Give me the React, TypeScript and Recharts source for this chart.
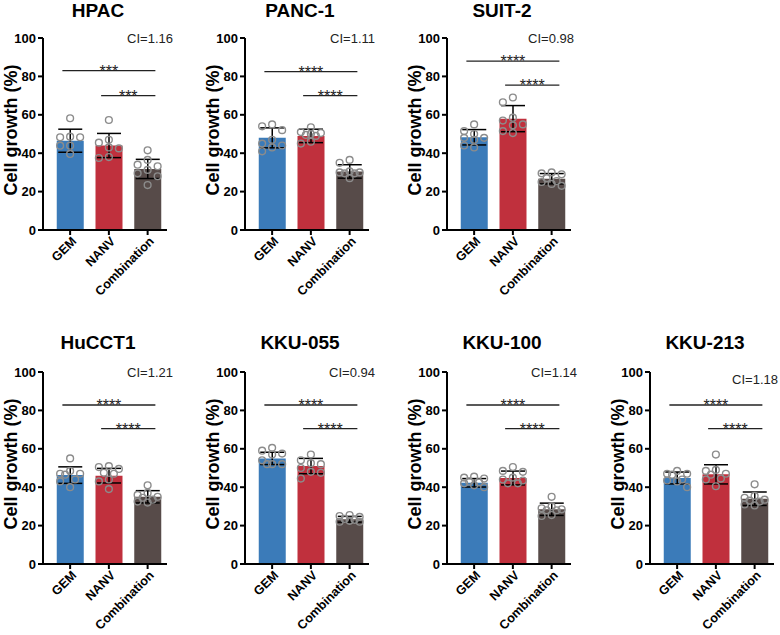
import React from 'react';
import { ComposedChart, Bar, Cell, ErrorBar, Scatter, XAxis, YAxis, ReferenceLine } from 'recharts';

// ---------- data ----------
const groups = ['GEM', 'NANV', 'Combination'];
const yTicks = [0, 20, 40, 60, 80, 100];
const panelNames = ['HPAC', 'PANC-1', 'SUIT-2', 'HuCCT1', 'KKU-055', 'KKU-100', 'KKU-213'];
const ciLabels = ['CI=1.16', 'CI=1.11', 'CI=0.98', 'CI=1.21', 'CI=0.94', 'CI=1.14', 'CI=1.18'];

const meanGEM = [46.5, 48, 48.3, 46.3, 55, 42.3, 44.8];
const meanNANV = [44, 49, 58, 46, 51, 44.8, 46.7];
const meanComb = [31.8, 30.5, 26.7, 35, 23.3, 28.5, 34];
const sdGEM = [6, 5.2, 4, 4.3, 3.2, 2.2, 3.1];
const sdNANV = [6.3, 3.5, 6.8, 3.8, 4, 3.6, 5];
const sdComb = [5, 3.5, 2.7, 3.2, 1.5, 3.2, 3.5];

const hpacGEM = [58.2, 48.6, 48.3, 48.3, 43.9, 43.9, 39.6];
const hpacNANV = [57.3, 47, 45.5, 43, 42.5, 38, 37.5];
const hpacComb = [41.5, 36.5, 34, 33.2, 31.3, 29.5, 28, 23.4];
const panc1GEM = [55, 54, 52, 47, 45, 44, 43, 41];
const panc1NANV = [53.5, 51, 50.5, 50, 49.5, 49, 46, 45];
const panc1Comb = [36.5, 35, 30.5, 30, 29.5, 30, 29.5, 27];
const suit2GEM = [55, 51.5, 50, 48, 48, 47, 44, 43];
const suit2NANV = [69, 66.5, 58.5, 57, 55, 54.5, 51.5, 50.5];
const suit2Comb = [30, 29.5, 29, 27, 25.5, 25, 24, 23];
const hucct1GEM = [55, 48.5, 47, 47, 46.5, 44, 43, 40];
const hucct1NANV = [51, 50.5, 49.5, 47.5, 47, 44, 43, 39];
const hucct1Comb = [41, 37, 36, 35, 34.5, 33.5, 32.5, 32];
const kku055GEM = [60.5, 59, 57.5, 57, 54, 52, 52, 52];
const kku055NANV = [57, 54, 52.5, 52, 50, 48, 47.5, 44.5];
const kku055Comb = [25.5, 25, 24.5, 23.5, 23, 22.5, 22, 22];
const kku100GEM = [45.5, 45, 44.5, 43, 42.5, 42, 41, 40];
const kku100NANV = [50.5, 48.5, 48, 45, 44, 43.5, 42, 42];
const kku100Comb = [35, 30, 29, 28.5, 28, 28, 25.5, 25];
const kku213GEM = [48.5, 47, 47, 46.5, 44, 43.5, 43, 40];
const kku213NANV = [57, 49, 48.5, 47, 46.5, 44.5, 44, 40.5];
const kku213Comb = [41.5, 35.5, 34.5, 33.5, 33, 32.5, 31, 30.5];

const pointsGEM = [hpacGEM, panc1GEM, suit2GEM, hucct1GEM, kku055GEM, kku100GEM, kku213GEM];
const pointsNANV = [hpacNANV, panc1NANV, suit2NANV, hucct1NANV, kku055NANV, kku100NANV, kku213NANV];
const pointsComb = [hpacComb, panc1Comb, suit2Comb, hucct1Comb, kku055Comb, kku100Comb, kku213Comb];

// significance brackets: [GEM vs Combination], [NANV vs Combination]
const sigHighY = [83, 82.5, 88, 82.8, 82.8, 82.8, 82.8];
const sigLowY = [70, 70, 75.5, 70.5, 70.5, 70.5, 70.5];
const sigHighText = ['***', '****', '****', '****', '****', '****', '****'];
const sigLowText = ['***', '****', '****', '****', '****', '****', '****'];

// ---------- style ----------
const FONT = "'Liberation Sans', Arial, Helvetica, sans-serif";
const COLORS = ['#3B7BB9', '#C0303D', '#574B49'];
const POINT_STROKE = '#8C8C8C';
const PANEL_W = 202;
const PANEL_H = 310;
const PX_PER_CAT = 38.73;
const PX_PER_UNIT = 1.92;
const JITTER_CANDIDATES = [0, -10, 10, -5, 5];
const MIN_DIST = 7.5;
const BRACKET_PAD = 0.2;

const panelLayout = [
  { left: 0, top: 0, titleY: 16.5, ciX: 173, ciY: 43 },
  { left: 202, top: 0, titleY: 16.5, ciX: 173, ciY: 43 },
  { left: 404, top: 0, titleY: 16.5, ciX: 170, ciY: 43 },
  { left: 0, top: 334, titleY: 14.5, ciX: 173, ciY: 43 },
  { left: 202, top: 334, titleY: 14.5, ciX: 173, ciY: 43 },
  { left: 404, top: 334, titleY: 14.5, ciX: 173, ciY: 43 },
  { left: 607, top: 334, titleY: 14.5, ciX: 171, ciY: 50 },
];

// simple beeswarm: keep every point inside its bar, spread close values sideways
function swarm(values: number[], gi: number) {
  const placed: { dx: number; y: number }[] = [];
  const sorted = [...values].sort((a, b) => b - a);
  return sorted.map((v) => {
    let best = JITTER_CANDIDATES[0];
    let bestD = -1;
    for (const c of JITTER_CANDIDATES) {
      const d = placed.length
        ? Math.min(...placed.map((p) => Math.hypot(p.dx - c, (p.y - v) * PX_PER_UNIT)))
        : Infinity;
      if (d >= MIN_DIST) {
        best = c;
        bestD = d;
        break;
      }
      if (d > bestD) {
        best = c;
        bestD = d;
      }
    }
    placed.push({ dx: best, y: v });
    return { x: gi + best / PX_PER_CAT, y: v };
  });
}

const PointShape = (props: any) => {
  const { cx, cy } = props;
  if (cx == null || cy == null) return null;
  return <circle cx={cx} cy={cy} r={3.4} fill="none" stroke={POINT_STROKE} strokeWidth={1.4} />;
};

const XTick = (props: any) => {
  const { x, y, payload } = props;
  const ax = x + 7;
  const ay = y + 5;
  return (
    <text
      x={ax}
      y={ay}
      transform={`rotate(-45, ${ax}, ${ay})`}
      textAnchor="end"
      fontSize={12.6}
      fontWeight={700}
      fontFamily={FONT}
      fill="#000"
    >
      {payload.value}
    </text>
  );
};

const renderYLabel = (props: any) => {
  const vb = props.viewBox || { x: 0, y: 38, width: 43, height: 192 };
  const cx = (vb.x || 0) + 16.5;
  const cy = vb.y + vb.height / 2 - 4;
  return (
    <text
      x={cx}
      y={cy}
      transform={`rotate(-90, ${cx}, ${cy})`}
      textAnchor="middle"
      fontSize={18}
      fontWeight={700}
      fontFamily={FONT}
      fill="#000"
    >
      Cell growth (%)
    </text>
  );
};

const sigLabel = (text: string) => (props: any) => {
  const vb = props.viewBox || {};
  const x = (vb.x ?? 0) + (vb.width ?? 0) / 2;
  const y = (vb.y ?? 0) + 6;
  return (
    <text x={x} y={y} textAnchor="middle" fontSize={16} fontFamily={FONT} fill="#222">
      {text}
    </text>
  );
};

function Panel({ idx }: { idx: number }) {
  const lay = panelLayout[idx];
  const bars = [
    { x: 0, name: groups[0], mean: meanGEM[idx], sd: sdGEM[idx] },
    { x: 1, name: groups[1], mean: meanNANV[idx], sd: sdNANV[idx] },
    { x: 2, name: groups[2], mean: meanComb[idx], sd: sdComb[idx] },
  ];
  const pts = [pointsGEM[idx], pointsNANV[idx], pointsComb[idx]].map((vals, gi) => swarm(vals, gi));
  return (
    <div style={{ position: 'absolute', left: lay.left, top: lay.top, width: PANEL_W, height: PANEL_H }}>
      <ComposedChart
        width={PANEL_W}
        height={PANEL_H}
        data={bars}
        margin={{ top: 38, right: 35, bottom: 0, left: 0 }}
      >
        <XAxis
          xAxisId="cat"
          type="category"
          dataKey="name"
          padding={{ left: 7.75, right: 0 }}
          interval={0}
          height={80}
          axisLine={{ stroke: '#000', strokeWidth: 2 }}
          tickLine={{ stroke: '#000', strokeWidth: 2 }}
          tickSize={5}
          tick={<XTick />}
        />
        <XAxis xAxisId="num" type="number" dataKey="x" domain={[-0.7, 2.5]} allowDataOverflow hide height={0} />
        <YAxis
          type="number"
          domain={[0, 100]}
          ticks={yTicks}
          interval={0}
          allowDataOverflow
          width={43}
          axisLine={{ stroke: '#000', strokeWidth: 2 }}
          tickLine={{ stroke: '#000', strokeWidth: 2 }}
          tickSize={5}
          tickMargin={2}
          tick={{ fontSize: 13, fontWeight: 700, fill: '#000', fontFamily: FONT }}
          label={{ content: renderYLabel }}
        />
        <Bar xAxisId="cat" dataKey="mean" barSize={27} isAnimationActive={false}>
          {bars.map((b, i) => (
            <Cell key={b.name} fill={COLORS[i]} />
          ))}
          <ErrorBar dataKey="sd" width={12} stroke="#000" strokeWidth={1.5} direction="y" />
        </Bar>
        {pts.map((p, gi) => (
          <Scatter
            key={groups[gi]}
            xAxisId="num"
            data={p}
            dataKey="y"
            shape={PointShape}
            isAnimationActive={false}
          />
        ))}
        <ReferenceLine
          xAxisId="num"
          segment={[
            { x: 0 - BRACKET_PAD, y: sigHighY[idx] },
            { x: 2 + BRACKET_PAD, y: sigHighY[idx] },
          ]}
          stroke="#222"
          strokeWidth={1.3}
          label={sigLabel(sigHighText[idx])}
        />
        <ReferenceLine
          xAxisId="num"
          segment={[
            { x: 1 - BRACKET_PAD, y: sigLowY[idx] },
            { x: 2 + BRACKET_PAD, y: sigLowY[idx] },
          ]}
          stroke="#222"
          strokeWidth={1.3}
          label={sigLabel(sigLowText[idx])}
        />
      </ComposedChart>
      <svg
        width={PANEL_W}
        height={PANEL_H}
        style={{ position: 'absolute', left: 0, top: 0, pointerEvents: 'none', overflow: 'visible' }}
      >
        <text x={98} y={lay.titleY} textAnchor="middle" fontSize={19} fontWeight={700} fontFamily={FONT} fill="#000">
          {panelNames[idx]}
        </text>
        <text x={lay.ciX} y={lay.ciY} textAnchor="end" fontSize={13} fontFamily={FONT} fill="#222">
          {ciLabels[idx]}
        </text>
      </svg>
    </div>
  );
}

export default function App() {
  return (
    <div
      style={{
        position: 'absolute',
        left: 0,
        top: 0,
        width: 780,
        height: 635,
        overflow: 'hidden',
        background: '#fff',
      }}
    >
      {panelNames.map((n, i) => (
        <Panel key={n} idx={i} />
      ))}
    </div>
  );
}
